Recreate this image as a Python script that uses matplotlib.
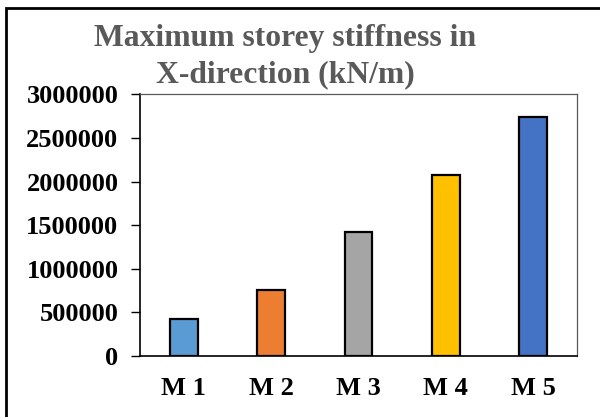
import matplotlib.pyplot as plt
from matplotlib.patches import Rectangle

models = ['M 1', 'M 2', 'M 3', 'M 4', 'M 5']
stiffness = [430000, 757000, 1420000, 2078000, 2740000]
bar_colors = ['#5B9BD5', '#ED7D31', '#A5A5A5', '#FFC000', '#4472C4']
yticks = [0, 500000, 1000000, 1500000, 2000000, 2500000, 3000000]

plt.rcParams['font.family'] = ['Liberation Serif', 'DejaVu Serif']
plt.rcParams['font.weight'] = 'bold'

fig = plt.figure(figsize=(6, 4.17), dpi=100)
ax = fig.add_axes([0.2333, 0.1463, 0.7284, 0.6271])

ax.bar(range(len(models)), stiffness, width=0.32, color=bar_colors,
       edgecolor='black', linewidth=1.6, zorder=3)

ax.set_xlim(-0.5, len(models) - 0.5)
ax.set_ylim(0, 3000000)
ax.set_yticks(yticks)
ax.set_yticklabels([str(v) for v in yticks])
ax.set_xticks(range(len(models)))
ax.set_xticklabels(models)

ax.tick_params(axis='y', direction='out', length=6.5, width=1, color='black',
               pad=9, labelsize=19)
ax.tick_params(axis='x', length=0, pad=15, labelsize=19)

for side in ['left', 'bottom']:
    ax.spines[side].set_color('black')
    ax.spines[side].set_linewidth(1.2)
for side in ['top', 'right']:
    ax.spines[side].set_color('#595959')
    ax.spines[side].set_linewidth(0.9)

# two-line heading in grey
fig.text(0.475, 1 - 46 / 417, 'Maximum storey stiffness in', ha='center',
         va='baseline', fontsize=22.8, color='#595959', fontweight='bold')
fig.text(0.475, 1 - 82 / 417, 'X-direction (kN/m)', ha='center',
         va='baseline', fontsize=22.8, color='#595959', fontweight='bold')

# outer frame around the chart
fig.patches.append(Rectangle((5.5 / 600, -0.2), 1.2, 1.2 - 8 / 417,
                             transform=fig.transFigure, fill=False,
                             edgecolor='black', linewidth=2))

fig.savefig('out.png', dpi=100)
